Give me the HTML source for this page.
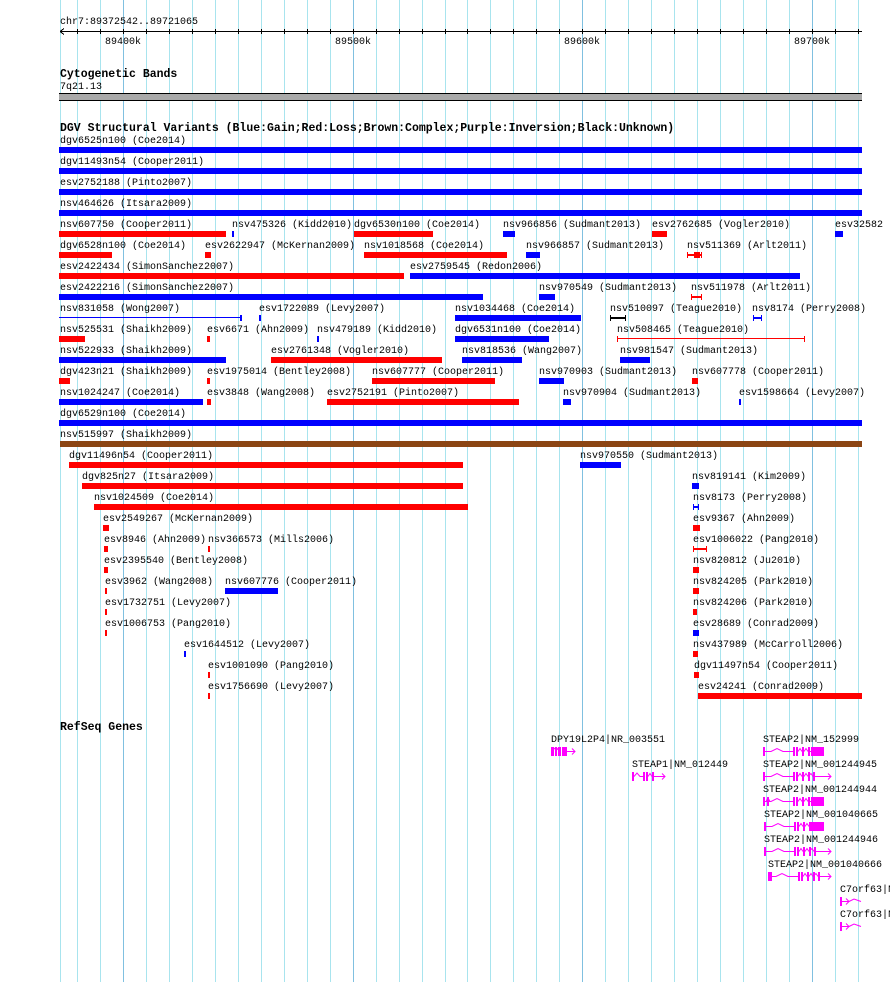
<!DOCTYPE html>
<html><head><meta charset="utf-8"><style>
body{margin:0;width:890px;height:982px;background:#fff;position:relative;overflow:hidden}
.g{position:absolute;top:0;width:1px;height:982px;background:#a8e4ee}
.d{background:#80c0e0}
.l{position:absolute;font:10px "Liberation Mono",monospace;line-height:12px;white-space:nowrap;color:#000;margin-top:2px}
.t{position:absolute;font:bold 11.5px "Liberation Mono",monospace;line-height:13px;white-space:nowrap;color:#000;margin-top:1px}
.b{position:absolute;height:6px;background:#0000ff}
.r{background:#ff0000}
.n{background:#8b4513}
</style></head><body>
<div class="g" style="left:60px"></div><div class="g" style="left:77px"></div><div class="g" style="left:100px"></div><div class="g d" style="left:123px"></div><div class="g" style="left:146px"></div><div class="g" style="left:169px"></div><div class="g" style="left:192px"></div><div class="g" style="left:215px"></div><div class="g" style="left:238px"></div><div class="g" style="left:261px"></div><div class="g" style="left:284px"></div><div class="g" style="left:307px"></div><div class="g" style="left:330px"></div><div class="g d" style="left:353px"></div><div class="g" style="left:376px"></div><div class="g" style="left:399px"></div><div class="g" style="left:422px"></div><div class="g" style="left:445px"></div><div class="g" style="left:467px"></div><div class="g" style="left:490px"></div><div class="g" style="left:513px"></div><div class="g" style="left:536px"></div><div class="g" style="left:559px"></div><div class="g d" style="left:582px"></div><div class="g" style="left:605px"></div><div class="g" style="left:628px"></div><div class="g" style="left:651px"></div><div class="g" style="left:674px"></div><div class="g" style="left:697px"></div><div class="g" style="left:720px"></div><div class="g" style="left:743px"></div><div class="g" style="left:766px"></div><div class="g" style="left:789px"></div><div class="g d" style="left:812px"></div><div class="g" style="left:835px"></div><div class="g" style="left:858px"></div>

<div class="l" style="left:60px;top:15px">chr7:89372542..89721065</div>
<svg style="position:absolute;left:0;top:0" width="890" height="50">
<g stroke="#000" stroke-width="1" shape-rendering="crispEdges">
<line x1="60" y1="31.5" x2="862" y2="31.5"/>
<line x1="60" y1="31.5" x2="64" y2="28.5"/><line x1="60" y1="31.5" x2="64" y2="34.5"/>
<path d="M77.5 29v5M100.5 29v5M123.5 29v5M146.5 29v5M169.5 29v5M192.5 29v5M215.5 29v5M238.5 29v5M261.5 29v5M284.5 29v5M307.5 29v5M330.5 29v5M353.5 29v5M376.5 29v5M399.5 29v5M422.5 29v5M445.5 29v5M467.5 29v5M490.5 29v5M513.5 29v5M536.5 29v5M559.5 29v5M582.5 29v5M605.5 29v5M628.5 29v5M651.5 29v5M674.5 29v5M697.5 29v5M720.5 29v5M743.5 29v5M766.5 29v5M789.5 29v5M812.5 29v5M835.5 29v5M858.5 29v5"/>
</g></svg>
<div class="l" style="left:105px;top:35px">89400k</div>
<div class="l" style="left:335px;top:35px">89500k</div>
<div class="l" style="left:564px;top:35px">89600k</div>
<div class="l" style="left:794px;top:35px">89700k</div>

<div class="t" style="left:60px;top:67px">Cytogenetic Bands</div>
<div class="l" style="left:60px;top:80px">7q21.13</div>
<div style="position:absolute;left:59px;top:93px;width:803px;height:6px;background:#a9a9a9;border-top:1px solid #000;border-bottom:1px solid #000"></div>

<div class="t" style="left:60px;top:121px">DGV Structural Variants (Blue:Gain;Red:Loss;Brown:Complex;Purple:Inversion;Black:Unknown)</div>

<div class="l" style="left:60px;top:134px">dgv6525n100 (Coe2014)</div><div class="b" style="left:59px;top:147px;width:803px"></div>
<div class="l" style="left:60px;top:155px">dgv11493n54 (Cooper2011)</div><div class="b" style="left:59px;top:168px;width:803px"></div>
<div class="l" style="left:60px;top:176px">esv2752188 (Pinto2007)</div><div class="b" style="left:59px;top:189px;width:803px"></div>
<div class="l" style="left:60px;top:197px">nsv464626 (Itsara2009)</div><div class="b" style="left:59px;top:210px;width:803px"></div>

<div class="l" style="left:60px;top:218px">nsv607750 (Cooper2011)</div><div class="b r" style="left:59px;top:231px;width:167px"></div>
<div class="l" style="left:232px;top:218px">nsv475326 (Kidd2010)</div><div class="b" style="left:232px;top:231px;width:2px"></div>
<div class="l" style="left:354px;top:218px">dgv6530n100 (Coe2014)</div><div class="b r" style="left:354px;top:231px;width:79px"></div>
<div class="l" style="left:503px;top:218px">nsv966856 (Sudmant2013)</div><div class="b" style="left:503px;top:231px;width:12px"></div>
<div class="l" style="left:652px;top:218px">esv2762685 (Vogler2010)</div><div class="b r" style="left:652px;top:231px;width:15px"></div>
<div class="l" style="left:835px;top:218px">esv32582</div><div class="b" style="left:835px;top:231px;width:8px"></div>

<div class="l" style="left:60px;top:239px">dgv6528n100 (Coe2014)</div><div class="b r" style="left:59px;top:252px;width:53px"></div>
<div class="l" style="left:205px;top:239px">esv2622947 (McKernan2009)</div><div class="b r" style="left:205px;top:252px;width:6px"></div>
<div class="l" style="left:364px;top:239px">nsv1018568 (Coe2014)</div><div class="b r" style="left:364px;top:252px;width:143px"></div>
<div class="l" style="left:526px;top:239px">nsv966857 (Sudmant2013)</div><div class="b" style="left:526px;top:252px;width:14px"></div>
<div class="l" style="left:687px;top:239px">nsv511369 (Arlt2011)</div>

<div class="l" style="left:60px;top:260px">esv2422434 (SimonSanchez2007)</div><div class="b r" style="left:59px;top:273px;width:345px"></div>
<div class="l" style="left:410px;top:260px">esv2759545 (Redon2006)</div><div class="b" style="left:410px;top:273px;width:390px"></div>

<div class="l" style="left:60px;top:281px">esv2422216 (SimonSanchez2007)</div><div class="b" style="left:59px;top:294px;width:424px"></div>
<div class="l" style="left:539px;top:281px">nsv970549 (Sudmant2013)</div><div class="b" style="left:539px;top:294px;width:16px"></div>
<div class="l" style="left:691px;top:281px">nsv511978 (Arlt2011)</div>

<div class="l" style="left:60px;top:302px">nsv831058 (Wong2007)</div>
<div class="l" style="left:259px;top:302px">esv1722089 (Levy2007)</div><div class="b" style="left:259px;top:315px;width:2px"></div>
<div class="l" style="left:455px;top:302px">nsv1034468 (Coe2014)</div><div class="b" style="left:455px;top:315px;width:126px"></div>
<div class="l" style="left:610px;top:302px">nsv510097 (Teague2010)</div>
<div class="l" style="left:752px;top:302px">nsv8174 (Perry2008)</div>

<div class="l" style="left:60px;top:323px">nsv525531 (Shaikh2009)</div><div class="b r" style="left:59px;top:336px;width:26px"></div>
<div class="l" style="left:207px;top:323px">esv6671 (Ahn2009)</div><div class="b r" style="left:207px;top:336px;width:3px"></div>
<div class="l" style="left:317px;top:323px">nsv479189 (Kidd2010)</div><div class="b" style="left:317px;top:336px;width:2px"></div>
<div class="l" style="left:455px;top:323px">dgv6531n100 (Coe2014)</div><div class="b" style="left:455px;top:336px;width:94px"></div>
<div class="l" style="left:617px;top:323px">nsv508465 (Teague2010)</div>

<div class="l" style="left:60px;top:344px">nsv522933 (Shaikh2009)</div><div class="b" style="left:59px;top:357px;width:167px"></div>
<div class="l" style="left:271px;top:344px">esv2761348 (Vogler2010)</div><div class="b r" style="left:271px;top:357px;width:171px"></div>
<div class="l" style="left:462px;top:344px">nsv818536 (Wang2007)</div><div class="b" style="left:462px;top:357px;width:60px"></div>
<div class="l" style="left:620px;top:344px">nsv981547 (Sudmant2013)</div><div class="b" style="left:620px;top:357px;width:30px"></div>

<div class="l" style="left:60px;top:365px">dgv423n21 (Shaikh2009)</div><div class="b r" style="left:59px;top:378px;width:11px"></div>
<div class="l" style="left:207px;top:365px">esv1975014 (Bentley2008)</div><div class="b r" style="left:207px;top:378px;width:3px"></div>
<div class="l" style="left:372px;top:365px">nsv607777 (Cooper2011)</div><div class="b r" style="left:372px;top:378px;width:123px"></div>
<div class="l" style="left:539px;top:365px">nsv970903 (Sudmant2013)</div><div class="b" style="left:539px;top:378px;width:25px"></div>
<div class="l" style="left:692px;top:365px">nsv607778 (Cooper2011)</div><div class="b r" style="left:692px;top:378px;width:6px"></div>

<div class="l" style="left:60px;top:386px">nsv1024247 (Coe2014)</div><div class="b" style="left:59px;top:399px;width:144px"></div>
<div class="l" style="left:207px;top:386px">esv3848 (Wang2008)</div><div class="b r" style="left:207px;top:399px;width:4px"></div>
<div class="l" style="left:327px;top:386px">esv2752191 (Pinto2007)</div><div class="b r" style="left:327px;top:399px;width:192px"></div>
<div class="l" style="left:563px;top:386px">nsv970904 (Sudmant2013)</div><div class="b" style="left:563px;top:399px;width:8px"></div>
<div class="l" style="left:739px;top:386px">esv1598664 (Levy2007)</div><div class="b" style="left:739px;top:399px;width:2px"></div>

<div class="l" style="left:60px;top:407px">dgv6529n100 (Coe2014)</div><div class="b" style="left:59px;top:420px;width:803px"></div>
<div class="l" style="left:60px;top:428px">nsv515997 (Shaikh2009)</div><div class="b n" style="left:60px;top:441px;width:802px"></div>

<div class="l" style="left:69px;top:449px">dgv11496n54 (Cooper2011)</div><div class="b r" style="left:69px;top:462px;width:394px"></div>
<div class="l" style="left:580px;top:449px">nsv970550 (Sudmant2013)</div><div class="b" style="left:580px;top:462px;width:41px"></div>

<div class="l" style="left:82px;top:470px">dgv825n27 (Itsara2009)</div><div class="b r" style="left:82px;top:483px;width:381px"></div>
<div class="l" style="left:692px;top:470px">nsv819141 (Kim2009)</div><div class="b" style="left:692px;top:483px;width:7px"></div>

<div class="l" style="left:94px;top:491px">nsv1024509 (Coe2014)</div><div class="b r" style="left:94px;top:504px;width:374px"></div>
<div class="l" style="left:693px;top:491px">nsv8173 (Perry2008)</div>

<div class="l" style="left:103px;top:512px">esv2549267 (McKernan2009)</div><div class="b r" style="left:103px;top:525px;width:6px"></div>
<div class="l" style="left:693px;top:512px">esv9367 (Ahn2009)</div><div class="b r" style="left:693px;top:525px;width:7px"></div>

<div class="l" style="left:104px;top:533px">esv8946 (Ahn2009)</div><div class="b r" style="left:104px;top:546px;width:4px"></div>
<div class="l" style="left:208px;top:533px">nsv366573 (Mills2006)</div><div class="b r" style="left:208px;top:546px;width:2px"></div>
<div class="l" style="left:693px;top:533px">esv1006022 (Pang2010)</div>

<div class="l" style="left:104px;top:554px">esv2395540 (Bentley2008)</div><div class="b r" style="left:104px;top:567px;width:4px"></div>
<div class="l" style="left:693px;top:554px">nsv820812 (Ju2010)</div><div class="b r" style="left:693px;top:567px;width:6px"></div>

<div class="l" style="left:105px;top:575px">esv3962 (Wang2008)</div><div class="b r" style="left:105px;top:588px;width:2px"></div>
<div class="l" style="left:225px;top:575px">nsv607776 (Cooper2011)</div><div class="b" style="left:225px;top:588px;width:53px"></div>
<div class="l" style="left:693px;top:575px">nsv824205 (Park2010)</div><div class="b r" style="left:693px;top:588px;width:6px"></div>

<div class="l" style="left:105px;top:596px">esv1732751 (Levy2007)</div><div class="b r" style="left:105px;top:609px;width:2px"></div>
<div class="l" style="left:693px;top:596px">nsv824206 (Park2010)</div><div class="b r" style="left:693px;top:609px;width:4px"></div>

<div class="l" style="left:105px;top:617px">esv1006753 (Pang2010)</div><div class="b r" style="left:105px;top:630px;width:2px"></div>
<div class="l" style="left:693px;top:617px">esv28689 (Conrad2009)</div><div class="b" style="left:693px;top:630px;width:6px"></div>

<div class="l" style="left:184px;top:638px">esv1644512 (Levy2007)</div><div class="b" style="left:184px;top:651px;width:2px"></div>
<div class="l" style="left:693px;top:638px">nsv437989 (McCarroll2006)</div><div class="b r" style="left:693px;top:651px;width:5px"></div>

<div class="l" style="left:208px;top:659px">esv1001090 (Pang2010)</div><div class="b r" style="left:208px;top:672px;width:2px"></div>
<div class="l" style="left:694px;top:659px">dgv11497n54 (Cooper2011)</div><div class="b r" style="left:694px;top:672px;width:5px"></div>

<div class="l" style="left:208px;top:680px">esv1756690 (Levy2007)</div><div class="b r" style="left:208px;top:693px;width:2px"></div>
<div class="l" style="left:698px;top:680px">esv24241 (Conrad2009)</div><div class="b r" style="left:698px;top:693px;width:164px"></div>

<svg style="position:absolute;left:0;top:0" width="890" height="982" shape-rendering="crispEdges">
<g fill="#ff0000">
<rect x="687" y="252" width="1" height="6"/><rect x="687" y="254" width="15" height="2"/><rect x="694" y="252" width="6" height="6"/><rect x="701" y="252" width="1" height="6"/>
<rect x="691" y="294" width="1" height="6"/><rect x="691" y="296" width="11" height="2"/><rect x="701" y="294" width="1" height="6"/>
<rect x="617" y="336" width="1" height="6"/><rect x="617" y="338" width="188" height="1"/><rect x="804" y="336" width="1" height="6"/>
<rect x="693" y="546" width="1" height="6"/><rect x="693" y="548" width="14" height="2"/><rect x="706" y="546" width="1" height="6"/>
</g>
<g fill="#0000ff">
<rect x="59" y="317" width="182" height="1"/><rect x="240" y="315" width="2" height="6"/>
<rect x="753" y="315" width="1" height="6"/><rect x="753" y="317" width="9" height="2"/><rect x="761" y="315" width="1" height="6"/>
<rect x="693" y="504" width="1" height="6"/><rect x="693" y="506" width="6" height="2"/><rect x="698" y="504" width="1" height="6"/>
</g>
<g fill="#000">
<rect x="610" y="315" width="1" height="6"/><rect x="610" y="317" width="16" height="2"/><rect x="625" y="315" width="1" height="6"/>
</g>
</svg>

<div class="t" style="left:60px;top:720px">RefSeq Genes</div>
<div class="l" style="left:551px;top:733px">DPY19L2P4|NR_003551</div>
<div class="l" style="left:632px;top:758px">STEAP1|NM_012449</div>
<div class="l" style="left:763px;top:733px">STEAP2|NM_152999</div>
<div class="l" style="left:763px;top:758px">STEAP2|NM_001244945</div>
<div class="l" style="left:763px;top:783px">STEAP2|NM_001244944</div>
<div class="l" style="left:764px;top:808px">STEAP2|NM_001040665</div>
<div class="l" style="left:764px;top:833px">STEAP2|NM_001244946</div>
<div class="l" style="left:768px;top:858px">STEAP2|NM_001040666</div>
<div class="l" style="left:840px;top:883px">C7orf63|NM</div>
<div class="l" style="left:840px;top:908px">C7orf63|NM</div>

<svg style="position:absolute;left:0;top:0" width="890" height="982">
<defs>
<g id="s2a"><rect x="0" y="0" width="2" height="9"/><path d="M2 4.5H8L14 1.5L20 4.5H30" fill="none" stroke="#ff00ff"/><rect x="30" y="0" width="2" height="9"/><rect x="33" y="0" width="2" height="9"/><path d="M35 4.5L37 1.5L39 4.5M41 4.5L43 1.5L45 4.5" fill="none" stroke="#ff00ff"/><rect x="39" y="0" width="2" height="9"/><rect x="45" y="0" width="2" height="9"/></g>
</defs>
<g fill="#ff00ff">
<rect x="551" y="747" width="3" height="9"/><rect x="555" y="747" width="2" height="9"/><rect x="558" y="747" width="3" height="9"/><rect x="562" y="747" width="5" height="9"/>
<path d="M567 751.5H575M572 748.5L575 751.5L572 754.5" fill="none" stroke="#ff00ff"/>
<path d="M554 748L555.5 749.5M557 748l1 2" stroke="#ff00ff" fill="none"/>
<rect x="632" y="772" width="2" height="9"/><path d="M634 776.5L637 773L640 776.5H643" fill="none" stroke="#ff00ff"/>
<rect x="643" y="772" width="2" height="9"/><rect x="646" y="772" width="2" height="9"/><path d="M648 776.5L650 773.5L652 776.5" fill="none" stroke="#ff00ff"/><rect x="652" y="772" width="2" height="9"/>
<path d="M654 776.5H665M662 773.5L665 776.5L662 779.5" fill="none" stroke="#ff00ff"/>
<use href="#s2a" x="763" y="747"/><rect x="811" y="747" width="13" height="9"/><path d="M808 751.5H811" stroke="#ff00ff"/>
<use href="#s2a" x="763" y="772"/><path d="M808 776.5L811 773.5L813 776.5" fill="none" stroke="#ff00ff"/><rect x="813" y="772" width="2" height="9"/><path d="M815 776.5H831M828 773.5L831 776.5L828 779.5" fill="none" stroke="#ff00ff"/>
<use href="#s2a" x="763" y="797"/><rect x="811" y="797" width="13" height="9"/><path d="M808 801.5H811" stroke="#ff00ff"/><path d="M766 801.5L768 798L770 801.5" fill="none" stroke="#ff00ff"/><rect x="767" y="797" width="2" height="9"/>
<use href="#s2a" x="764" y="822"/><rect x="811" y="822" width="13" height="9"/><path d="M809 826.5H811" stroke="#ff00ff"/>
<use href="#s2a" x="764" y="847"/><path d="M809 851.5L812 848.5L814 851.5" fill="none" stroke="#ff00ff"/><rect x="814" y="847" width="2" height="9"/><path d="M816 851.5H831M828 848.5L831 851.5L828 854.5" fill="none" stroke="#ff00ff"/>
<use href="#s2a" x="768" y="872"/><rect x="770" y="872" width="2" height="9"/><path d="M813 876.5L816 873.5L818 876.5" fill="none" stroke="#ff00ff"/><rect x="818" y="872" width="2" height="9"/><path d="M820 876.5H831M828 873.5L831 876.5L828 879.5" fill="none" stroke="#ff00ff"/>
<rect x="840" y="897" width="2" height="9"/><path d="M842 901.5H849M846 898.5L849 901.5L846 904.5M849 901.5L854 899L861 901.5" fill="none" stroke="#ff00ff"/>
<rect x="840" y="922" width="2" height="9"/><path d="M842 926.5H849M846 923.5L849 926.5L846 929.5M849 926.5L854 924L861 926.5" fill="none" stroke="#ff00ff"/>
</g>
</svg>
</body></html>
